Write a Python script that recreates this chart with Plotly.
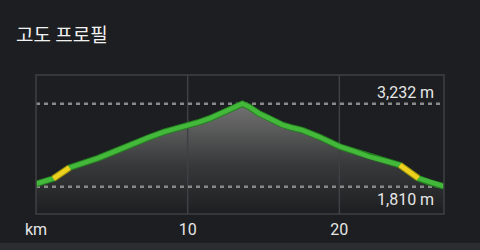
import plotly.graph_objects as go

# ---- data ----
km = [0, 1.15, 2.2, 3.1, 4.1, 5.2, 6.25, 7.4, 8.45, 9.2, 10.0, 10.8, 11.5,
      12.2, 13.05, 13.6, 14.05, 14.7, 15.35, 16.25, 16.9, 17.55, 18.65,
      20.05, 21.0, 21.95, 23.0, 24.0, 25.2, 26.0, 26.9]
elev = [1860, 1950, 2135, 2210, 2300, 2415, 2535, 2650, 2750, 2800, 2855,
        2920, 2985, 3065, 3180, 3232, 3180, 3065, 2985, 2870, 2820, 2780,
        2665, 2495, 2415, 2325, 2255, 2180, 1955, 1880, 1815]
steep_segments = [(1, 2), (27, 28)]  # index ranges drawn in yellow
max_elev = 3232
min_elev = 1810
max_label = "3,232 m"
min_label = "1,810 m"
tick_vals = [0, 10, 20]
tick_text = ["km", "10", "20"]
title = "고도 프로필"

X_RANGE = [0, 26.9]
Y_RANGE = [1342, 3724]

BG = "#1c1e21"
GRID = "#3e4043"
GREEN = "#44b83b"
GREEN_DARK = "#23801f"
YELLOW = "#ecd11e"
YELLOW_DARK = "#a8900e"

fig = go.Figure()

# gradient fill
fig.add_trace(go.Scatter(
    x=km, y=elev, mode="lines", line=dict(width=0),
    fill="tozeroy",
    fillgradient=dict(type="vertical",
                      colorscale=[[0, "#1d1e20"], [0.45, "#38393a"], [1, "#737373"]],
                      start=Y_RANGE[0], stop=max_elev),
    hoverinfo="skip", showlegend=False))

# vertical grid lines over the fill
for v in tick_vals[1:]:
    fig.add_trace(go.Scatter(x=[v, v], y=Y_RANGE, mode="lines",
                             line=dict(color=GRID, width=1.5),
                             hoverinfo="skip", showlegend=False))

# dashed max / min reference lines
for v in (max_elev, min_elev):
    fig.add_trace(go.Scatter(x=X_RANGE, y=[v, v], mode="lines",
                             line=dict(color="#8a8a8a", width=2.5, dash="4px,4px"),
                             hoverinfo="skip", showlegend=False))

# outline + main line
fig.add_trace(go.Scatter(x=km, y=elev, mode="lines",
                         line=dict(color=GREEN_DARK, width=6.5), showlegend=False))
fig.add_trace(go.Scatter(x=km, y=elev, mode="lines",
                         line=dict(color=GREEN, width=4.5), showlegend=False))
for a, b in steep_segments:
    fig.add_trace(go.Scatter(x=km[a:b + 1], y=elev[a:b + 1], mode="lines",
                             line=dict(color=YELLOW_DARK, width=6.5), showlegend=False))
    fig.add_trace(go.Scatter(x=km[a:b + 1], y=elev[a:b + 1], mode="lines",
                             line=dict(color=YELLOW, width=4.5), showlegend=False))

shapes = [
    # plot border
    dict(type="rect", xref="paper", yref="paper", x0=0, x1=1, y0=0, y1=1,
         line=dict(color=GRID, width=1.5), layer="above"),
    # bottom strip
    dict(type="rect", xref="paper", yref="paper", x0=-0.2, x1=1.2,
         y0=-0.27, y1=-0.2086, fillcolor="#2b2d30", line=dict(width=0), layer="above"),
]

annotations = [
    dict(text=max_label, xref="paper", x=1, xanchor="right", xshift=-8,
         yref="y", y=max_elev, yanchor="bottom", yshift=0, showarrow=False,
         font=dict(family="Roboto", size=16, color="#e6e6e6")),
    dict(text=min_label, xref="paper", x=1, xanchor="right", xshift=-8,
         yref="y", y=min_elev, yanchor="top", yshift=-1, showarrow=False,
         font=dict(family="Roboto", size=16, color="#e6e6e6")),
    dict(text=title, xref="paper", x=-0.055, xanchor="left", yref="paper", y=1.3,
         yanchor="middle", showarrow=False,
         font=dict(family="Noto Sans CJK KR", size=19, color="#f2f2f2")),
]

fig.update_layout(
    width=480, height=250,
    margin=dict(l=36, r=36, t=75, b=36, autoexpand=False),
    paper_bgcolor=BG, plot_bgcolor=BG,
    shapes=shapes, annotations=annotations,
    showlegend=False,
    xaxis=dict(range=X_RANGE, tickvals=tick_vals, ticktext=tick_text,
               showgrid=False, zeroline=False, showline=False, ticks="",
               ticklabelstandoff=4, automargin=False,
               tickfont=dict(family="Roboto", size=16, color="#e6e6e6"),
               fixedrange=True),
    yaxis=dict(range=Y_RANGE, showgrid=False, zeroline=False, showticklabels=False,
               showline=False, fixedrange=True, automargin=False),
)

fig.write_html("out.html", config={"displayModeBar": False})
